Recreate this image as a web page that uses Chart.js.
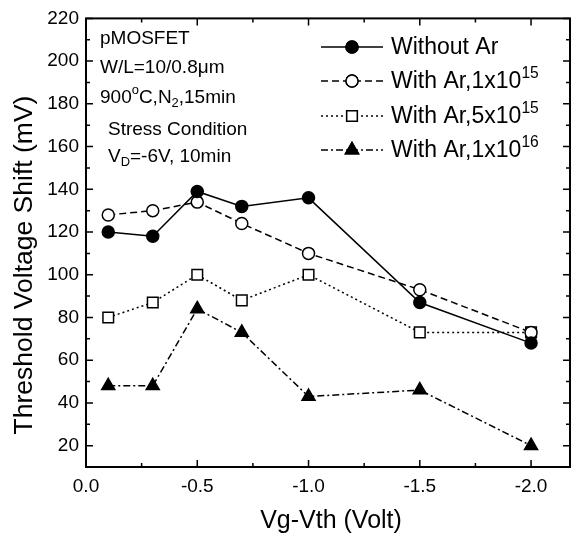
<!DOCTYPE html>
<html>
<head>
<meta charset="utf-8">
<script src="https://cdn.jsdelivr.net/npm/chart.js@4/dist/chart.umd.min.js"></script>
<style>
  html, body { margin: 0; padding: 0; background: #fff; }
  #wrap { width: 579px; height: 537px; }
</style>
</head>
<body>
<div id="wrap"><canvas id="chart"></canvas></div>
<script>
// Vg-Vth values (Volt) shared by all series
const VG = [-0.1, -0.3, -0.5, -0.7, -1.0, -1.5, -2.0];

// Threshold voltage shift (mV)
const WITHOUT_AR = [120, 118, 139, 132, 136, 87, 68];
const AR_1E15 = [128, 130, 134, 124, 110, 93, 73];
const AR_5E15 = [80, 87, 100, 88, 100, 73, 73];
const AR_1E16 = [48, 48, 84, 73, 43, 46, 20];

const X_TICKS = [0, -0.5, -1.0, -1.5, -2.0];
const X_MINOR = [-0.25, -0.75, -1.25, -1.75];
const Y_TICKS = [20, 40, 60, 80, 100, 120, 140, 160, 180, 200, 220];
const Y_MINOR = [30, 50, 70, 90, 110, 130, 150, 170, 190, 210];

const FONT = '"Liberation Sans", Arial, sans-serif';

const pts = ys => VG.map((x, i) => ({ x, y: ys[i] }));

const SERIES = [
  { label: 'Without Ar', sup: '', data: WITHOUT_AR, dash: [], style: 'circle', fill: '#000', r: 6 },
  { label: 'With Ar,1x10', sup: '15', data: AR_1E15, dash: [7, 4], style: 'circle', fill: '#fff', r: 6 },
  { label: 'With Ar,5x10', sup: '15', data: AR_5E15, dash: [2, 3], style: 'rect', fill: '#fff', r: 7.5 },
  { label: 'With Ar,1x10', sup: '16', data: AR_1E16, dash: [7, 3, 2, 3], style: 'triangle', fill: '#000', r: 7.5 },
];

const datasets = SERIES.map(s => ({
  label: s.label + s.sup,
  data: pts(s.data),
  showLine: true,
  borderColor: '#000',
  borderWidth: 1.5,
  borderDash: s.dash,
  pointStyle: s.style,
  pointRadius: s.r,
  pointBackgroundColor: s.fill,
  pointBorderColor: '#000',
  pointBorderWidth: 1.5,
  tension: 0,
}));

// draw text made of normal / sup / sub pieces, left aligned at (x, y) middle
function drawRich(ctx, parts, x, y, size) {
  let cx = x;
  for (const p of parts) {
    const small = p.mode === 'sup' || p.mode === 'sub';
    const fs = small ? size * 0.68 : size;
    ctx.font = fs + 'px ' + FONT;
    let dy = 0;
    if (p.mode === 'sup') dy = -size * 0.38;
    if (p.mode === 'sub') dy = size * 0.3;
    ctx.fillText(p.t, cx, y + dy);
    cx += ctx.measureText(p.t).width;
  }
}

const figurePlugin = {
  id: 'figure',
  afterDraw(chart) {
    const { ctx, chartArea: a, scales: { x, y } } = chart;
    ctx.save();
    ctx.strokeStyle = '#000';
    ctx.fillStyle = '#000';
    ctx.setLineDash([]);

    // frame
    ctx.lineWidth = 2;
    ctx.strokeRect(a.left, a.top, a.right - a.left, a.bottom - a.top);

    // inward ticks on all four sides
    ctx.lineWidth = 1.5;
    ctx.beginPath();
    const xt = (v, len) => {
      const px = x.getPixelForValue(v);
      ctx.moveTo(px, a.bottom); ctx.lineTo(px, a.bottom - len);
      ctx.moveTo(px, a.top); ctx.lineTo(px, a.top + len);
    };
    const yt = (v, len) => {
      const py = y.getPixelForValue(v);
      ctx.moveTo(a.left, py); ctx.lineTo(a.left + len, py);
      ctx.moveTo(a.right, py); ctx.lineTo(a.right - len, py);
    };
    X_TICKS.forEach(v => xt(v, 7));
    X_MINOR.forEach(v => xt(v, 4));
    Y_TICKS.forEach(v => yt(v, 7));
    Y_MINOR.forEach(v => yt(v, 4));
    ctx.stroke();

    // axis titles
    ctx.textBaseline = 'middle';
    ctx.textAlign = 'center';
    ctx.font = '25px ' + FONT;
    ctx.fillText('Vg-Vth (Volt)', 331, 521);
    ctx.save();
    ctx.translate(25, 265);
    ctx.rotate(-Math.PI / 2);
    ctx.font = '26.5px ' + FONT;
    ctx.fillText('Threshold Voltage Shift (mV)', 0, 0);
    ctx.restore();

    // annotation block
    ctx.textAlign = 'left';
    drawRich(ctx, [{ t: 'pMOSFET' }], 100, 39, 19);
    drawRich(ctx, [{ t: 'W/L=10/0.8\u03bcm' }], 100, 68, 19);
    drawRich(ctx, [{ t: '900' }, { t: 'o', mode: 'sup' }, { t: 'C,N' }, { t: '2', mode: 'sub' }, { t: ',15min' }], 100, 98, 19);
    drawRich(ctx, [{ t: 'Stress Condition' }], 108, 130, 19);
    drawRich(ctx, [{ t: 'V' }, { t: 'D', mode: 'sub' }, { t: '=-6V, 10min' }], 108, 157, 19);

    // legend
    const rows = [47, 81, 116, 150];
    SERIES.forEach((s, i) => {
      const ry = rows[i];
      ctx.lineWidth = 1.5;
      ctx.setLineDash(s.dash);
      ctx.beginPath();
      ctx.moveTo(321, ry); ctx.lineTo(383, ry);
      ctx.stroke();
      ctx.setLineDash([]);
      ctx.fillStyle = s.fill;
      Chart.helpers.drawPoint(ctx, { pointStyle: s.style, radius: s.r, borderWidth: 1.5 }, 352, ry);
      ctx.fill();
      ctx.stroke();
      ctx.fillStyle = '#000';
      const parts = [{ t: s.label }];
      if (s.sup) parts.push({ t: s.sup, mode: 'sup' });
      drawRich(ctx, parts, 391, ry + 1, 23);
    });
    ctx.restore();
  },
};

new Chart(document.getElementById('chart'), {
  type: 'scatter',
  data: { datasets },
  plugins: [figurePlugin],
  options: {
    responsive: true,
    maintainAspectRatio: false,
    animation: false,
    layout: { padding: { top: 15, right: 6, left: 0, bottom: 0 } },
    plugins: { legend: { display: false }, tooltip: { enabled: false } },
    scales: {
      x: {
        type: 'linear',
        min: -2.175,
        max: 0,
        reverse: true,
        afterBuildTicks: s => { s.ticks = X_TICKS.map(v => ({ value: v })); },
        afterFit: s => { s.height = 70; },
        grid: { display: false, drawTicks: false },
        border: { display: false },
        ticks: {
          color: '#000',
          padding: 8,
          font: { family: FONT, size: 19 },
          callback: v => (v === 0 ? '0.0' : v.toFixed(1)),
        },
      },
      y: {
        min: 10,
        max: 220,
        afterBuildTicks: s => { s.ticks = Y_TICKS.map(v => ({ value: v })); },
        afterFit: s => { s.width = 86; },
        grid: { display: false, drawTicks: false },
        border: { display: false },
        ticks: {
          color: '#000',
          padding: 7,
          font: { family: FONT, size: 19 },
        },
      },
    },
  },
});
</script>
</body>
</html>
